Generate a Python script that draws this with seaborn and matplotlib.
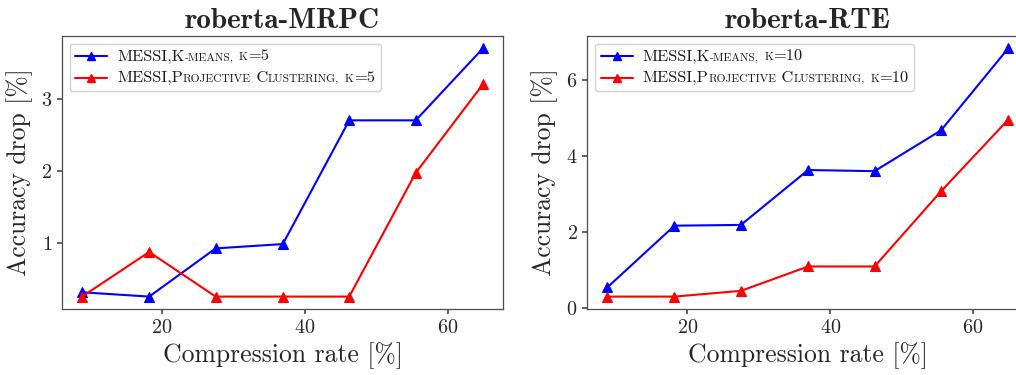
import numpy as np
import pandas as pd
import matplotlib
matplotlib.use("Agg")
import matplotlib.pyplot as plt
import seaborn as sns
from matplotlib.offsetbox import AnchoredOffsetbox, HPacker, VPacker, TextArea, DrawingArea
from matplotlib.lines import Line2D

# Compression rates (%) shared by both experiments
compression = [8.8, 18.2, 27.5, 36.9, 46.2, 55.5, 64.9]

# roberta-MRPC accuracy drop (%)
mrpc_kmeans = [0.31, 0.25, 0.92, 0.98, 2.70, 2.70, 3.70]
mrpc_projective = [0.25, 0.87, 0.25, 0.25, 0.25, 1.97, 3.20]

# roberta-RTE accuracy drop (%)
rte_kmeans = [0.55, 2.17, 2.19, 3.63, 3.60, 4.67, 6.82]
rte_projective = [0.31, 0.31, 0.46, 1.10, 1.10, 3.07, 4.95]

titles = ["roberta-MRPC", "roberta-RTE"]
k_values = [5, 10]
xlabel = "Compression rate [%]"
ylabel = "Accuracy drop [%]"

sns.set_theme(style="ticks")
plt.rcParams.update({
    "font.family": ["cmr10"],
    "mathtext.fontset": "cm",
    "axes.formatter.use_mathtext": True,
    "axes.edgecolor": "0.3",
    "axes.linewidth": 0.9,
    "xtick.color": "0.3",
    "ytick.color": "0.3",
    "xtick.labelcolor": "0.15",
    "ytick.labelcolor": "0.15",
    "xtick.major.size": 3.5,
    "ytick.major.size": 3.5,
    "xtick.labelsize": 14.5,
    "ytick.labelsize": 14.5,
})

fig = plt.figure(figsize=(10.16, 3.75), dpi=100)
ax_left = fig.add_axes([0.061, 0.176, 0.434, 0.728])
ax_right = fig.add_axes([0.578, 0.176, 0.434, 0.728])

BIG = 11.8
SMALL = 8.3


def legend_label(parts):
    """Small-caps style label: (text, is_small) pieces packed on one baseline."""
    areas = [TextArea(t, textprops=dict(fontsize=SMALL if s else BIG,
                                        family="cmr10", color="0.1"))
             for t, s in parts]
    return HPacker(children=areas, align="baseline", pad=0, sep=0)


def legend_handle(color):
    da = DrawingArea(23, 8, 0, 0)
    da.add_artist(Line2D([0, 23], [4, 4], color=color, lw=1.5))
    da.add_artist(Line2D([11.5], [4], color=color, marker="^", markersize=6,
                         markeredgecolor=color))
    return da


def add_legend(ax, k):
    rows = [
        [("MESSI,K", False), ("-MEANS,", True), (" ", False), ("K", True),
         (f"={k}", False)],
        [("MESSI,P", False), ("ROJECTIVE", True), (" C", False),
         ("LUSTERING,", True), (" ", False), ("K", True), (f"={k}", False)],
    ]
    colors = ["blue", "red"]
    entries = [HPacker(children=[legend_handle(c), legend_label(r)],
                       align="center", pad=0, sep=7)
               for c, r in zip(colors, rows)]
    box = VPacker(children=entries, align="left", pad=0, sep=5.5)
    anchored = AnchoredOffsetbox(loc="upper left", child=box, pad=0.42,
                                 borderpad=0.55, frameon=True,
                                 prop=dict(size=10))
    anchored.patch.set_boxstyle("round,pad=0,rounding_size=0.2")
    anchored.patch.set_edgecolor("0.8")
    anchored.patch.set_facecolor("white")
    anchored.patch.set_alpha(0.85)
    ax.add_artist(anchored)


panels = [
    (ax_left, mrpc_kmeans, mrpc_projective),
    (ax_right, rte_kmeans, rte_projective),
]

for i, (ax, km, pc) in enumerate(panels):
    df = pd.DataFrame({"rate": compression, "kmeans": km, "projective": pc})
    sns.lineplot(data=df, x="rate", y="kmeans", ax=ax, color="blue",
                 marker="^", markersize=6.5, markeredgecolor="blue",
                 markeredgewidth=0.8, linewidth=1.5, legend=False)
    sns.lineplot(data=df, x="rate", y="projective", ax=ax, color="red",
                 marker="^", markersize=6.5, markeredgecolor="red",
                 markeredgewidth=0.8, linewidth=1.5, legend=False)
    ax.set_title(titles[i], fontsize=21, family="cmb10", pad=6)
    ax.set_xlabel(xlabel, fontsize=18.5, labelpad=4)
    ax.set_ylabel(ylabel, fontsize=18.5, labelpad=6)
    ax.set_xticks([20, 40, 60])
    add_legend(ax, k_values[i])

ax_left.set_yticks([1, 2, 3])
ax_right.set_yticks([0, 2, 4, 6])

fig.savefig("out.png", dpi=100)
